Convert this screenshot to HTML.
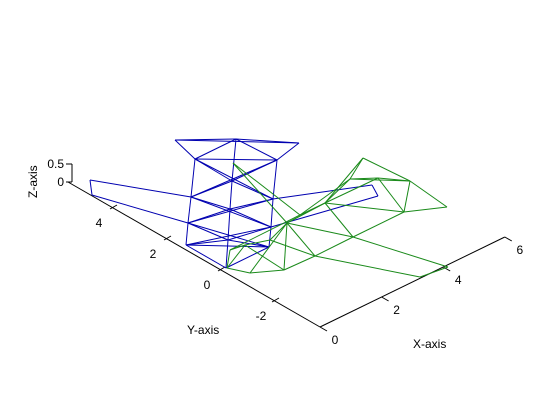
<!DOCTYPE html>
<html><head><meta charset="utf-8"><style>
body{margin:0;background:#fff}
svg{display:block;font-family:"Liberation Sans",sans-serif;font-size:12px}
</style></head><body>
<svg width="560" height="420" viewBox="0 0 560 420">
<rect width="560" height="420" fill="#fff"/>
<g id="axes" stroke="#000" stroke-width="1" fill="none"></g>
<g id="labels" fill="#000"></g>
<g id="blue" stroke="#0000b0" stroke-width="1" fill="none"></g>
<g id="green" stroke="#1a8a1a" stroke-width="1" fill="none"></g>
<text x="187" y="334">Y-axis</text>
<text x="413" y="348">X-axis</text>
<text transform="translate(37,198) rotate(-90)">Z-axis</text>
</svg>
<script>
const xTicks=[0,2,4,6];
const yTicks=[4,2,0,-2];
const zTicks=[0,0.5];
// vertex data (projected)
const blueVerts=[[175,140],[236,139],[299,143],[195,159],[277,160],[191,197],[232,181],[273,199],[188,223],[230,209],[271,227],[186,245],[228,240],[269,247],[226,268],[90,180],[92,195],[372,185],[378,196]];
const blueEdges=[[0,1],[1,2],[0,2],[0,3],[2,4],[3,1],[1,4],[3,4],[3,5],[4,7],[1,6],[5,6],[6,7],[5,8],[7,10],[6,9],[8,9],[9,10],[8,11],[10,13],[9,12],[11,12],[12,13],[11,13],[12,14],[11,14],[13,14],[3,6],[6,4],[5,9],[9,7],[8,12],[12,10],[3,7],[4,5],[5,10],[7,8],[8,13],[10,11],[15,5],[16,8],[15,16],[7,17],[10,18],[17,18]];
const greenVerts=[[363,158],[410,181],[447,207],[404,212],[378,178],[350,179],[325,203],[287,223],[353,237],[315,256],[284,270],[250,273],[227,268],[420,277],[448,267],[233,163],[245,245],[270,240],[300,215],[230,250]];
const greenEdges=[[0,1],[1,2],[2,3],[3,1],[0,5],[5,4],[4,1],[4,3],[5,6],[6,7],[4,6],[6,8],[8,3],[7,8],[7,9],[9,8],[9,10],[10,11],[11,12],[7,10],[9,13],[8,14],[13,14],[15,7],[15,18],[18,6],[12,16],[16,17],[17,7],[12,19],[19,16],[16,10],[17,9],[19,18],[18,5],[6,3],[7,11],[0,6],[5,1]];
const O=[320,327];
function px(x){return [O[0]+x*30.8,O[1]-x*15];}
function py(y){return [218-27*y,271-15.5*y];}
function pz(z){return [72,182-z*36];}
const NS='http://www.w3.org/2000/svg';
function ln(g,a,b,name){const l=document.createElementNS(NS,'line');
l.setAttribute('x1',a[0]);l.setAttribute('y1',a[1]);l.setAttribute('x2',b[0]);l.setAttribute('y2',b[1]);


g.appendChild(l);}
function tx(g,p,s,anchor,name){const t=document.createElementNS(NS,'text');
t.setAttribute('x',p[0]);t.setAttribute('y',p[1]);t.setAttribute('text-anchor',anchor);t.textContent=s;


g.appendChild(t);}
const ax=document.getElementById('axes'),lb=document.getElementById('labels');
ln(ax,px(0),px(6),'x-axis-line');
ln(ax,[68,182],O,'y-axis-line');
ln(ax,pz(0),pz(0.5),'z-axis-line');
xTicks.forEach(v=>{const p=px(v);ln(ax,p,[p[0]+7,p[1]+4],'x-tick');tx(lb,[p[0]+15,p[1]+17],String(v),'middle','x-tick-label');});
yTicks.forEach(v=>{const p=py(v);ln(ax,p,[p[0]+7,p[1]-4],'y-tick');tx(lb,[p[0]-11,p[1]+18],String(v),'middle','y-tick-label');});
zTicks.forEach(v=>{const p=pz(v);ln(ax,p,[p[0]-6,p[1]],'z-tick');tx(lb,[p[0]-8,p[1]+4],String(v),'end','z-tick-label');});
const bg=document.getElementById('blue'),gg=document.getElementById('green');
blueEdges.forEach(e=>ln(bg,blueVerts[e[0]],blueVerts[e[1]],'blue-edge'));
greenEdges.forEach(e=>ln(gg,greenVerts[e[0]],greenVerts[e[1]],'green-edge'));
</script>
</body></html>
